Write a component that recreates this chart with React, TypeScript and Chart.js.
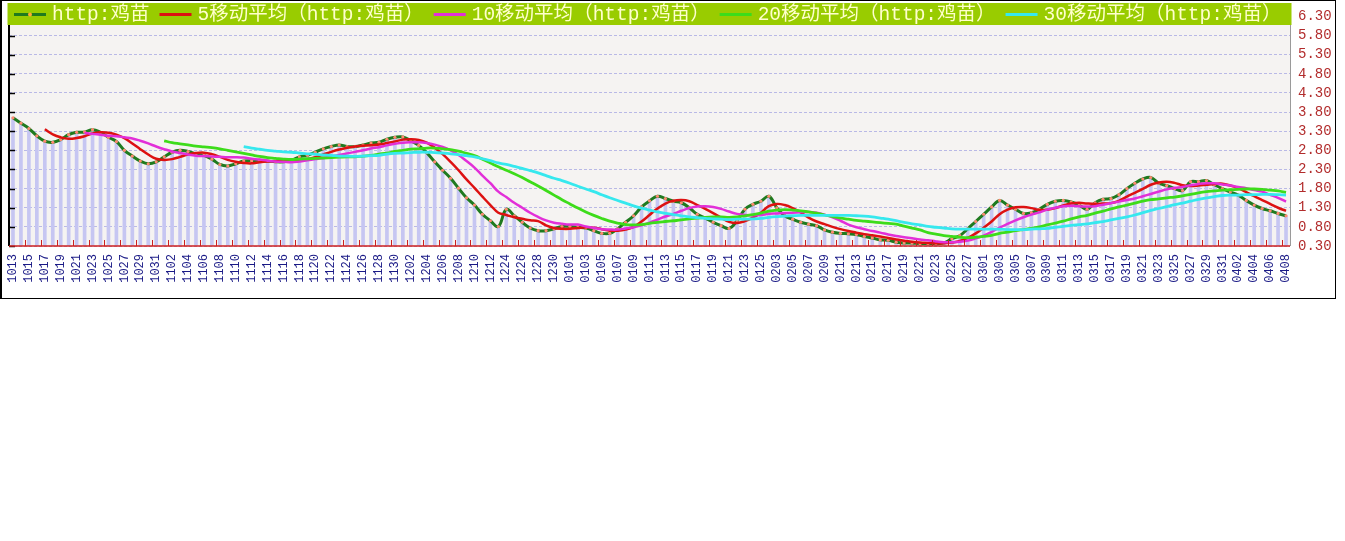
import React, { useEffect, useRef } from 'react';
import { Chart, registerables } from 'chart.js';

Chart.register(...registerables);

// ---- categories (one per data point; every other one is shown as a tick label) ----
const categories = [
  '1013','1014','1015','1016','1017','1018','1019','1020','1021','1022','1023','1024','1025','1026','1027','1028','1029','1030','1031',
  '1101','1102','1103','1104','1105','1106','1107','1108','1109','1110','1111','1112','1113','1114','1115','1116','1117','1118','1119','1120',
  '1121','1122','1123','1124','1125','1126','1127','1128','1129','1130',
  '1201','1202','1203','1204','1205','1206','1207','1208','1209','1210','1211','1212',
  '1223','1224','1225','1226','1227','1228','1229','1230','1231',
  '0101','0102','0103','0104','0105','0106','0107','0108','0109','0110','0111','0112','0113','0114','0115','0116','0117','0118','0119','0120',
  '0121','0122','0123','0124','0125',
  '0202','0203','0204','0205','0206','0207','0208','0209','0210','0211','0212','0213','0214','0215','0216','0217','0218','0219','0220',
  '0221','0222','0223','0224','0225','0226','0227','0228',
  '0301','0302','0303','0304','0305','0306','0307','0308','0309','0310','0311','0312','0313','0314','0315','0316','0317','0318','0319','0320',
  '0321','0322','0323','0324','0325','0326','0327','0328','0329','0330','0331',
  '0401','0402','0403','0404','0405','0406','0407','0408',
];

// ---- series values ----
const mainValues = [
  3.65,3.51,3.37,3.18,3.04,3.01,3.08,3.21,3.27,3.28,
  3.34,3.27,3.14,3.03,2.80,2.65,2.52,2.45,2.50,2.63,
  2.75,2.80,2.77,2.71,2.67,2.57,2.43,2.39,2.45,2.52,
  2.53,2.54,2.52,2.50,2.50,2.54,2.63,2.67,2.75,2.84,
  2.90,2.94,2.90,2.90,2.94,2.99,3.01,3.09,3.14,3.15,
  3.05,2.93,2.74,2.50,2.28,2.07,1.81,1.56,1.37,1.13,
  0.96,0.81,1.26,1.09,0.92,0.77,0.70,0.70,0.75,0.81,
  0.81,0.79,0.77,0.70,0.63,0.63,0.75,0.92,1.09,1.32,
  1.48,1.60,1.54,1.47,1.43,1.30,1.13,1.03,0.92,0.83,
  0.76,0.96,1.26,1.39,1.47,1.60,1.30,1.09,1.00,0.92,
  0.87,0.83,0.72,0.66,0.63,0.62,0.60,0.55,0.51,0.46,
  0.45,0.40,0.38,0.38,0.36,0.36,0.36,0.38,0.49,0.57,
  0.75,0.94,1.13,1.32,1.49,1.37,1.26,1.15,1.17,1.26,
  1.39,1.47,1.49,1.45,1.37,1.26,1.43,1.52,1.54,1.64,
  1.80,1.94,2.05,2.09,1.94,1.88,1.80,1.75,1.98,1.98,
  2.01,1.90,1.80,1.71,1.63,1.49,1.37,1.28,1.22,1.15,
  1.09,
];

const ma5Start = 4;
const ma5Values = [
  3.35,3.22,3.14,3.10,3.12,3.17,3.24,3.27,3.26,3.21,
  3.12,2.98,2.83,2.69,2.58,2.55,2.57,2.63,2.69,2.73,
  2.74,2.70,2.63,2.55,2.50,2.47,2.46,2.49,2.51,2.52,
  2.52,2.52,2.54,2.57,2.62,2.69,2.76,2.82,2.87,2.90,
  2.92,2.93,2.95,2.99,3.03,3.08,3.09,3.07,3.00,2.87,
  2.70,2.50,2.28,2.04,1.82,1.59,1.37,1.17,1.11,1.05,
  1.01,0.97,0.95,0.84,0.77,0.75,0.75,0.77,0.79,0.78,
  0.74,0.70,0.70,0.73,0.80,0.94,1.11,1.28,1.41,1.48,
  1.50,1.47,1.37,1.27,1.16,1.04,0.93,0.90,0.95,1.04,
  1.17,1.34,1.40,1.37,1.29,1.18,1.04,0.94,0.87,0.80,
  0.74,0.69,0.65,0.61,0.58,0.55,0.51,0.47,0.44,0.41,
  0.39,0.38,0.37,0.37,0.39,0.43,0.51,0.63,0.78,0.94,
  1.13,1.25,1.31,1.32,1.29,1.24,1.25,1.29,1.36,1.41,
  1.43,1.41,1.40,1.41,1.42,1.48,1.59,1.69,1.79,1.90,
  1.96,1.98,1.95,1.89,1.87,1.88,1.90,1.92,1.93,1.88,
  1.81,1.71,1.60,1.50,1.40,1.30,1.22,
];

const ma10Start = 9;
const ma10Values = [
  3.26,3.23,3.21,3.18,3.17,3.14,3.11,3.05,2.98,2.90,
  2.83,2.77,2.73,2.69,2.66,2.65,2.64,2.63,2.62,2.62,
  2.61,2.58,2.56,2.53,2.51,2.50,2.49,2.51,2.54,2.57,
  2.60,2.64,2.68,2.72,2.76,2.80,2.85,2.88,2.93,2.97,
  3.00,3.01,3.01,2.99,2.95,2.89,2.80,2.68,2.52,2.35,
  2.14,1.94,1.72,1.58,1.43,1.30,1.17,1.06,0.97,0.91,
  0.88,0.86,0.86,0.81,0.77,0.74,0.73,0.73,0.76,0.79,
  0.84,0.91,0.99,1.07,1.14,1.22,1.29,1.33,1.34,1.32,
  1.27,1.20,1.14,1.11,1.10,1.11,1.14,1.15,1.16,1.17,
  1.18,1.19,1.17,1.12,1.05,0.96,0.86,0.79,0.74,0.69,
  0.65,0.60,0.56,0.53,0.50,0.47,0.45,0.42,0.40,0.40,
  0.41,0.44,0.50,0.57,0.67,0.78,0.88,0.97,1.05,1.12,
  1.18,1.25,1.30,1.34,1.35,1.34,1.33,1.34,1.38,1.42,
  1.46,1.50,1.54,1.60,1.66,1.72,1.78,1.82,1.84,1.89,
  1.92,1.94,1.94,1.91,1.88,1.84,1.81,1.76,1.72,1.64,
  1.56,1.46,
];

const ma20Start = 19;
const ma20Values = [
  3.05,3.00,2.97,2.94,2.91,2.89,2.87,2.84,2.80,2.76,
  2.72,2.68,2.64,2.61,2.59,2.57,2.56,2.57,2.58,2.59,
  2.60,2.61,2.62,2.63,2.63,2.65,2.67,2.70,2.73,2.77,
  2.80,2.83,2.84,2.86,2.86,2.84,2.82,2.78,2.72,2.66,
  2.57,2.47,2.37,2.28,2.19,2.09,1.98,1.87,1.75,1.63,
  1.51,1.40,1.29,1.19,1.10,1.02,0.95,0.90,0.86,0.85,
  0.86,0.89,0.92,0.94,0.96,0.98,1.01,1.03,1.05,1.06,
  1.06,1.05,1.06,1.09,1.12,1.16,1.21,1.24,1.25,1.24,
  1.22,1.19,1.16,1.11,1.07,1.03,1.00,0.97,0.95,0.93,
  0.91,0.89,0.87,0.82,0.77,0.72,0.65,0.61,0.57,0.55,
  0.53,0.52,0.53,0.55,0.58,0.63,0.66,0.70,0.73,0.76,
  0.80,0.85,0.90,0.95,1.01,1.06,1.10,1.16,1.21,1.27,
  1.32,1.37,1.42,1.47,1.51,1.53,1.56,1.58,1.61,1.65,
  1.69,1.72,1.74,1.76,1.77,1.78,1.79,1.79,1.78,1.76,
  1.74,1.70,
];

const ma30Start = 29;
const ma30Values = [
  2.90,2.86,2.83,2.80,2.78,2.76,2.75,2.73,2.71,2.70,
  2.68,2.67,2.65,2.65,2.64,2.65,2.66,2.67,2.70,2.72,
  2.73,2.74,2.75,2.75,2.74,2.73,2.71,2.69,2.66,2.63,
  2.58,2.53,2.47,2.43,2.38,2.33,2.27,2.21,2.14,2.07,
  2.01,1.94,1.86,1.79,1.72,1.64,1.56,1.49,1.42,1.35,
  1.29,1.24,1.19,1.15,1.12,1.09,1.06,1.04,1.02,1.01,
  1.00,0.99,1.00,1.00,1.01,1.02,1.05,1.07,1.08,1.09,
  1.10,1.10,1.10,1.10,1.10,1.10,1.10,1.09,1.08,1.06,
  1.03,1.00,0.96,0.92,0.88,0.85,0.81,0.79,0.77,0.75,
  0.74,0.74,0.74,0.74,0.74,0.74,0.73,0.73,0.73,0.74,
  0.75,0.76,0.79,0.81,0.84,0.86,0.88,0.91,0.94,0.98,
  1.02,1.06,1.11,1.17,1.23,1.28,1.33,1.38,1.42,1.47,
  1.52,1.56,1.59,1.62,1.63,1.63,1.64,1.64,1.65,1.65,
  1.64,1.63,
];

const seriesNames = [
  'http:鸡苗',
  '5移动平均（http:鸡苗）',
  '10移动平均（http:鸡苗）',
  '20移动平均（http:鸡苗）',
  '30移动平均（http:鸡苗）',
];

const yMin = 0.3;
const yMax = 6.3;
const yStep = 0.5;

const padStart = (start: number, vals: number[]) => [...Array(start).fill(null), ...vals];

const MONO = "'Liberation Mono', 'DejaVu Sans Mono', monospace";
const LEGEND_FONT = "19.5px 'Liberation Mono', 'Noto Sans CJK SC', monospace";

const framePlugin = {
  id: 'framePlugin',
  beforeDraw(chart: any) {
    const { ctx, chartArea: a } = chart;
    ctx.save();
    ctx.fillStyle = '#f5f3f2';
    ctx.fillRect(a.left, a.top, a.right - a.left, a.bottom - a.top);
    ctx.restore();
  },
  afterDraw(chart: any) {
    const { ctx, chartArea: a, scales } = chart;
    const xs = scales.x;
    const ys = scales.y;
    ctx.save();
    // right border of plot
    ctx.strokeStyle = '#9a9a9a';
    ctx.lineWidth = 1;
    ctx.beginPath();
    ctx.moveTo(Math.round(a.right) + 0.5, a.top);
    ctx.lineTo(Math.round(a.right) + 0.5, a.bottom);
    ctx.stroke();
    // left axis (black) with inward ticks
    ctx.strokeStyle = '#000';
    ctx.lineWidth = 2;
    ctx.beginPath();
    ctx.moveTo(a.left, a.top);
    ctx.lineTo(a.left, a.bottom);
    ctx.stroke();
    ctx.lineWidth = 1.5;
    ys.ticks.forEach((t: any) => {
      const py = Math.round(ys.getPixelForValue(t.value)) + 0.5;
      ctx.beginPath();
      ctx.moveTo(a.left, py);
      ctx.lineTo(a.left + 6, py);
      ctx.stroke();
    });
    // x axis (red) with upward ticks
    ctx.strokeStyle = '#cc2020';
    ctx.lineWidth = 1.5;
    ctx.beginPath();
    ctx.moveTo(a.left, a.bottom);
    ctx.lineTo(a.right, a.bottom);
    ctx.stroke();
    ctx.lineWidth = 1;
    for (let i = 1; i + 1 < categories.length; i += 2) {
      const px = Math.round((xs.getPixelForValue(i) + xs.getPixelForValue(i + 1)) / 2) + 0.5;
      ctx.beginPath();
      ctx.moveTo(px, a.bottom);
      ctx.lineTo(px, a.bottom - 6);
      ctx.stroke();
    }
    // legend bar
    ctx.fillStyle = '#99cc00';
    ctx.fillRect(a.left - 1.5, 3, a.right - a.left + 3, 22);
    ctx.font = LEGEND_FONT;
    ctx.textBaseline = 'middle';
    ctx.textAlign = 'left';
    const yMid = 14.5;
    let x = 14;
    const lineDs = chart.data.datasets.filter((d: any) => d.type === 'line');
    lineDs.forEach((d: any, idx: number) => {
      ctx.strokeStyle = d.borderColor;
      ctx.lineWidth = 3;
      ctx.beginPath();
      ctx.moveTo(x, yMid);
      ctx.lineTo(x + 32, yMid);
      ctx.stroke();
      if (idx === 0) {
        ctx.fillStyle = '#ffaa33';
        ctx.beginPath();
        ctx.arc(x + 16, yMid, 2, 0, Math.PI * 2);
        ctx.fill();
      }
      x += 38;
      ctx.fillStyle = '#ffffcc';
      ctx.fillText(d.label, x, yMid + 0.5);
      x += ctx.measureText(d.label).width + 10;
    });
    ctx.restore();
  },
};

export default function App() {
  const canvasRef = useRef<HTMLCanvasElement | null>(null);

  useEffect(() => {
    if (!canvasRef.current) return;
    const chart = new Chart(canvasRef.current, {
      type: 'bar',
      data: {
        labels: categories,
        datasets: [
          {
            type: 'line',
            label: seriesNames[0],
            data: mainValues,
            borderColor: '#1f7a1f',
            borderWidth: 3,
            pointRadius: 1.6,
            pointBackgroundColor: '#ff8a70',
            pointBorderWidth: 0,
            tension: 0.4,
            order: 5,
          },
          {
            type: 'line',
            label: seriesNames[1],
            data: padStart(ma5Start, ma5Values),
            borderColor: '#dd1111',
            borderWidth: 2.5,
            pointRadius: 0,
            tension: 0.4,
            order: 4,
          },
          {
            type: 'line',
            label: seriesNames[2],
            data: padStart(ma10Start, ma10Values),
            borderColor: '#e22fd8',
            borderWidth: 2.5,
            pointRadius: 0,
            tension: 0.4,
            order: 3,
          },
          {
            type: 'line',
            label: seriesNames[3],
            data: padStart(ma20Start, ma20Values),
            borderColor: '#3ddc1a',
            borderWidth: 2.8,
            pointRadius: 0,
            tension: 0.4,
            order: 2,
          },
          {
            type: 'line',
            label: seriesNames[4],
            data: padStart(ma30Start, ma30Values),
            borderColor: '#36e8ee',
            borderWidth: 2.8,
            pointRadius: 0,
            tension: 0.4,
            order: 1,
          },
          {
            type: 'bar',
            label: seriesNames[0],
            data: mainValues,
            backgroundColor: '#c6c6f2',
            barThickness: 3,
            base: yMin,
            order: 6,
          } as any,
        ],
      },
      options: {
        responsive: false,
        animation: false,
        devicePixelRatio: 1,
        layout: { padding: { left: 9, top: 12, right: 0, bottom: 0 } },
        plugins: {
          legend: { display: false },
          tooltip: { enabled: false },
        },
        scales: {
          x: {
            type: 'category',
            offset: true,
            grid: { display: false, drawTicks: false },
            border: { display: false },
            ticks: {
              autoSkip: false,
              maxRotation: 90,
              minRotation: 90,
              padding: 8,
              color: '#1a1a86',
              font: { family: MONO, size: 12 },
              callback: (_v: any, i: number) => (i % 2 === 0 ? categories[i] : ''),
            },
            afterFit: (s: any) => {
              s.height = 53;
            },
          },
          y: {
            position: 'right',
            min: yMin,
            max: yMax,
            ticks: {
              stepSize: yStep,
              autoSkip: false,
              maxTicksLimit: 30,
              padding: 8,
              color: '#b22c2c',
              font: { family: MONO, size: 14 },
              callback: (v: any) => Number(v).toFixed(2),
            },
            grid: { color: '#b9b9e6', lineWidth: 1, drawTicks: false },
            border: { display: false, dash: [3, 2] },
            afterFit: (s: any) => {
              s.width = 46;
            },
          },
        },
      } as any,
      plugins: [framePlugin],
    });
    return () => chart.destroy();
  }, []);

  return (
    <div style={{ position: 'absolute', left: 0, top: 0, width: 1336, height: 299 }}>
      <canvas
        ref={canvasRef}
        width={1336}
        height={299}
        style={{ position: 'absolute', left: 0, top: 0, width: 1336, height: 299 }}
      />
      <div
        style={{
          position: 'absolute',
          left: 0,
          top: 0,
          width: 1336,
          height: 299,
          boxSizing: 'border-box',
          border: '1px solid #000',
          borderLeftWidth: 2,
          pointerEvents: 'none',
        }}
      />
    </div>
  );
}
